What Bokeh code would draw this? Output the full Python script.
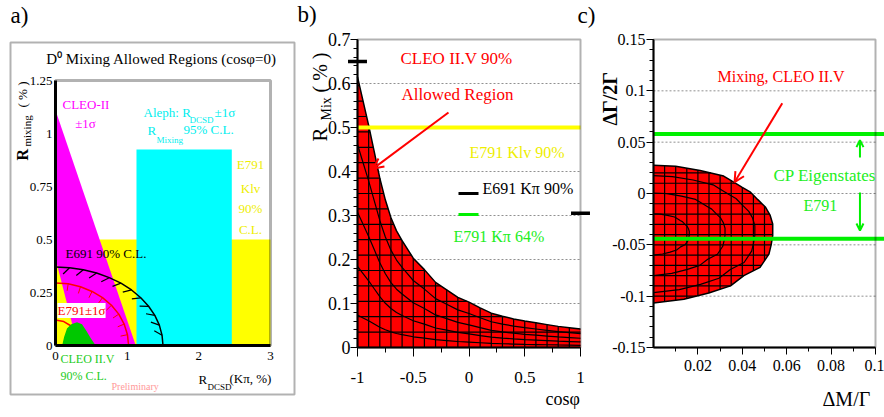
import math
import numpy as np
from bokeh.plotting import figure
from bokeh.layouts import row
from bokeh.models import Label, BoxAnnotation, Arrow, OpenHead, FixedTicker
from bokeh.embed import file_html
from bokeh.resources import INLINE

SERIF = "Liberation Serif"
H = 416

# ---------------- panel a : D0 mixing allowed regions (cos phi = 0) ----------------
a_xticks = [0, 1, 2, 3]
a_yticks = [0, 0.25, 0.5, 0.75, 1, 1.25]
klv_rmix_limit = 0.5                 # E791 Klv 90% C.L.
aleph_rdcsd = [1.13, 2.46]           # Aleph R_DCSD +-1 sigma
aleph_rmix_limit = 0.925             # Aleph R_Mixing 95% C.L.
cleo2_x = [0.0, 1.12, 0.31, 0.0]     # CLEO-II +-1 sigma band
cleo2_y = [1.11, 0.0, 0.0, 0.41]
e691_x = [0.0, 0.196, 0.388, 0.574, 0.75, 0.913, 1.061, 1.19, 1.299, 1.386, 1.449, 1.487, 1.5]
e691_y = [0.37, 0.367, 0.357, 0.342, 0.32, 0.294, 0.262, 0.225, 0.185, 0.142, 0.096, 0.048, 0.0]
e791_x = [0.0, 0.177, 0.349, 0.51, 0.656, 0.781, 0.883, 0.958, 1.004, 1.02]
e791_y = [0.295, 0.291, 0.277, 0.255, 0.226, 0.19, 0.148, 0.101, 0.051, 0.0]
e791in_x = [0.0, 0.116, 0.219, 0.294, 0.328, 0.34]
e791in_y = [0.12, 0.113, 0.092, 0.06, 0.031, 0.0]
cleo25_x = [0.093, 0.12, 0.16, 0.22, 0.30, 0.37, 0.43, 0.49, 0.56]
cleo25_y = [0.0, 0.04, 0.08, 0.10, 0.11, 0.10, 0.07, 0.035, 0.0]

# ---------------- panel b : R_mix vs cos phi ----------------
b_xticks = [-1, -0.5, 0, 0.5, 1]
b_yticks = [0, 0.1, 0.2, 0.3, 0.4, 0.5, 0.6, 0.7]
b_cos = [-1.0, -0.95, -0.9, -0.85, -0.8, -0.75, -0.7, -0.65, -0.6, -0.5, -0.4, -0.3, -0.2,
         -0.1, 0.0, 0.1, 0.2, 0.3, 0.4, 0.5, 0.6, 0.7, 0.8, 0.9, 1.0]
b_rmax = [0.615, 0.56, 0.505, 0.445, 0.385, 0.335, 0.295, 0.265, 0.243, 0.203, 0.177, 0.148, 0.131,
          0.114, 0.103, 0.09, 0.078, 0.071, 0.065, 0.06, 0.056, 0.052, 0.048, 0.045, 0.042]
e791_klv_limit = 0.5
e691_kpi_cos = [-1.0, 1.0]
e691_kpi_rmix = [0.65, 0.305]

# ---------------- panel c : dGamma/2Gamma vs dM/Gamma ----------------
c_xticks = [0.02, 0.04, 0.06, 0.08, 0.1]
c_yticks = [-0.15, -0.1, -0.05, 0, 0.05, 0.1, 0.15]
c_dm = [0.0, 0.01, 0.021, 0.0316, 0.0354, 0.040, 0.0437, 0.047, 0.0505, 0.0525, 0.0537, 0.0537,
        0.053, 0.052, 0.048, 0.0407, 0.0347, 0.0249, 0.0137, 0.0]
c_dg = [0.0275, 0.0265, 0.0225, 0.017, 0.012, 0.006, 0.0013, -0.006, -0.0134, -0.021, -0.0297, -0.041,
        -0.050, -0.059, -0.072, -0.080, -0.090, -0.097, -0.103, -0.1066]
cp_limits = [0.058, -0.044]          # E791 CP eigenstates


def panel(cx0, cw, xlim, px_l, px_r, ylim, py_t, py_b):
    """Figure whose frame is the whole canvas; the plot box is placed with the ranges."""
    kx = (px_r - px_l) / (xlim[1] - xlim[0])
    ky = (py_b - py_t) / (ylim[1] - ylim[0])
    xs = xlim[0] - (px_l - cx0) / kx
    xe = xlim[1] + (cx0 + cw - px_r) / kx
    ys = ylim[0] - (H - py_b) / ky
    ye = ylim[1] + py_t / ky
    p = figure(width=cw, height=H, x_range=(xs, xe), y_range=(ys, ye), output_backend="svg",
               toolbar_location=None, min_border=0, min_border_left=0, min_border_right=0,
               min_border_top=0, min_border_bottom=0)
    p.background_fill_color = "white"
    p.border_fill_color = "white"
    p.outline_line_color = None
    p.xgrid.visible = False
    p.ygrid.visible = False
    p.xaxis[0].fixed_location = ylim[0]
    p.xaxis[0].bounds = tuple(xlim)
    p.yaxis[0].fixed_location = xlim[0]
    p.yaxis[0].bounds = tuple(ylim)
    return p, kx, ky, (xs, xe)


def axis_style(ax, ticks, minor, size, major_out, minor_out, standoff, width):
    ax.ticker = FixedTicker(ticks=ticks, minor_ticks=minor)
    ax.major_label_overrides = {t: ("%g" % t) for t in ticks}
    ax.major_label_text_font = SERIF
    ax.major_label_text_font_size = f"{size}px"
    ax.major_label_text_color = "black"
    ax.major_tick_in = 0
    ax.minor_tick_in = 0
    ax.major_tick_out = major_out
    ax.minor_tick_out = minor_out
    ax.major_tick_line_color = "black" if major_out else None
    ax.minor_tick_line_color = "black" if minor_out else None
    ax.major_label_standoff = standoff
    ax.axis_line_color = "black"
    ax.axis_line_width = width


def frame_box(p, xlim, ylim, width):
    p.add_layout(BoxAnnotation(left=xlim[0], right=xlim[1], bottom=ylim[0], top=ylim[1],
                               fill_color=None, fill_alpha=0, line_color="black",
                               line_width=width))


def put(p, cx0, wx, wy, text, size, color="black", align="left", angle=0.0,
        style="normal", bg=None):
    kw = dict(x=wx - cx0, y=H - wy, x_units="screen", y_units="screen", text=text,
              text_font=SERIF, text_font_size=f"{size}px", text_color=color,
              text_align=align, text_baseline="middle", angle=angle, text_font_style=style)
    if bg is not None:
        kw["background_fill_color"] = bg
    p.add_layout(Label(**kw))


def normal_marks(xs, ys, idx, length, rot_deg, sx, sy):
    th = math.radians(rot_deg)
    x0s, y0s, x1s, y1s = [], [], [], []
    n = len(xs)
    for i in idx:
        i0, i1 = max(i - 1, 0), min(i + 1, n - 1)
        tx = (xs[i1] - xs[i0]) * sx
        ty = (ys[i1] - ys[i0]) * sy
        L = math.hypot(tx, ty)
        nx, ny = ty / L, -tx / L
        dx = nx * math.cos(th) - ny * math.sin(th)
        dy = nx * math.sin(th) + ny * math.cos(th)
        x0s.append(xs[i]); y0s.append(ys[i])
        x1s.append(xs[i] + dx * length / sx); y1s.append(ys[i] + dy * length / sy)
    return x0s, y0s, x1s, y1s


def poly_cuts(px, py, val, vertical):
    out = []
    n = len(px)
    for i in range(n):
        x1, y1, x2, y2 = px[i], py[i], px[(i + 1) % n], py[(i + 1) % n]
        a1, a2 = (x1, x2) if vertical else (y1, y2)
        b1, b2 = (y1, y2) if vertical else (x1, x2)
        if a1 != a2 and (a1 - val) * (a2 - val) <= 0:
            t = (val - a1) / (a2 - a1)
            out.append(b1 + t * (b2 - b1))
    return out


# ======================= panel a =======================
CXa = 0
xa_lim, ya_lim = (0, 3), (0, 1.25)
pa, SXa, SYa, _ = panel(CXa, 296, xa_lim, 55, 270, ya_lim, 80, 345)
axis_style(pa.xaxis[0], a_xticks, [], 13, 0, 0, 6, 3)
axis_style(pa.yaxis[0], a_yticks, [], 13, 0, 0, 3, 3)

pa.quad(left=xa_lim[0], right=xa_lim[1], bottom=0, top=klv_rmix_limit,
        fill_color="#ffff00", line_color=None)
pa.quad(left=aleph_rdcsd[0], right=aleph_rdcsd[1], bottom=0, top=aleph_rmix_limit,
        fill_color="#00ffff", line_color=None)
pa.patch(cleo2_x, cleo2_y, fill_color="#ff00ff", line_color=None)
pa.line(e791in_x, e791in_y, line_color="red", line_width=1.5)
pa.line(e791_x, e791_y, line_color="red", line_width=1.5)
rx0, ry0, rx1, ry1 = normal_marks(e791_x, e791_y, range(1, 9), 7, 0, SXa, SYa)
pa.segment(rx0, ry0, rx1, ry1, line_color="red", line_width=1)
pa.patch(cleo25_x, cleo25_y, fill_color="#00c800", line_color=None)
pa.line(e691_x, e691_y, line_color="black", line_width=1.5)
hx0, hy0, hx1, hy1 = normal_marks(e691_x, e691_y, range(1, 12), 9, -40, SXa, SYa)
pa.segment(hx0, hy0, hx1, hy1, line_color="black", line_width=1.2)
frame_box(pa, xa_lim, ya_lim, 3)

# outer box of panel a
pa.add_layout(BoxAnnotation(left=10, right=294, top=H - 42, bottom=H - 394,
                            left_units="screen", right_units="screen", top_units="screen",
                            bottom_units="screen", fill_color=None, fill_alpha=0,
                            line_color="black", line_width=2))

put(pa, CXa, 10, 15, "a)", 23)
put(pa, CXa, 161, 58, "D\u2070 Mixing Allowed Regions (cos\u03c6=0)", 15, align="center")
put(pa, CXa, 22, 160, "R", 16, angle=math.pi / 2, style="bold")
put(pa, CXa, 26, 146, "mixing", 11, angle=math.pi / 2)
put(pa, CXa, 22, 107, "( % )", 13, angle=math.pi / 2)
put(pa, CXa, 62, 104, "CLEO-II", 13, color="#ff00ff")
put(pa, CXa, 85, 123, "\u00b11\u03c3", 13, color="#ff00ff", align="center")
put(pa, CXa, 143, 112, "Aleph: R", 13, color="#00eeee")
put(pa, CXa, 189, 119, "DCSD", 9, color="#00eeee")
put(pa, CXa, 214, 112, "\u00b11\u03c3", 13, color="#00eeee")
put(pa, CXa, 147, 130, "R", 13, color="#00eeee")
put(pa, CXa, 156, 139, "Mixing", 9, color="#00eeee")
put(pa, CXa, 183, 129, "95% C.L.", 13, color="#00eeee")
for txt, yy in (("E791", 164), ("Klv", 188), ("90%", 208), ("C.L.", 229)):
    put(pa, CXa, 250, yy, txt, 13, color="#eeee00", align="center")
put(pa, CXa, 65, 253, "E691 90% C.L.", 13)
put(pa, CXa, 57, 310, "E791\u00b11\u03c3", 13, color="red", bg="white")
put(pa, CXa, 60, 358, "CLEO II.V", 12, color="#22cc22")
put(pa, CXa, 60, 375, "90% C.L.", 12, color="#22cc22")
put(pa, CXa, 111, 386, "Preliminary", 10, color="#ff9999")
put(pa, CXa, 198, 379, "R", 13)
put(pa, CXa, 207, 386, "DCSD", 9)
put(pa, CXa, 229, 378, "(K\u03c0, %)", 13)

# ======================= panel b =======================
CXb = 296
xb_lim, yb_lim = (-1, 1), (0, 0.7)
pb, SXb, SYb, _ = panel(CXb, 300, xb_lim, 357, 580, yb_lim, 39, 347)
axis_style(pb.xaxis[0], b_xticks, [-0.75, -0.25, 0.25, 0.75], 17, 9, 5, 15, 2)
axis_style(pb.yaxis[0], b_yticks, [round(0.02 * k, 3) for k in range(36)], 18, 7, 4, 0, 2)

b_grid = b_yticks[1:-1]
pb.segment(x0=xb_lim[0], x1=xb_lim[1], y0=b_grid, y1=b_grid, line_color="#909090",
           line_width=1, line_dash="2 2")
pb.varea(x=b_cos, y1=0, y2=b_rmax, fill_color="#ff0000")
b_cos_rev = b_cos[::-1]
b_r_rev = b_rmax[::-1]
mx, my = [], []
for k in range(1, 20):
    c = -1 + 0.1 * k
    mx.append([c, c]); my.append([0, float(np.interp(c, b_cos, b_rmax))])
for k in range(1, 18):
    r = 0.035 * k
    cr = float(np.interp(r, b_r_rev, b_cos_rev)) if r > b_rmax[-1] else 1.0
    mx.append([-1, cr]); my.append([r, r])
for s in (0.12, 0.3, 0.5, 0.75):
    mx.append(list(b_cos)); my.append([s * r for r in b_rmax])
pb.multi_line(mx, my, line_color="black", line_width=1.2)
pb.line(b_cos, b_rmax, line_color="black", line_width=1.5)
pb.segment(x0=[xb_lim[0]], x1=[xb_lim[1]], y0=[e791_klv_limit], y1=[e791_klv_limit],
           line_color="#ffff00", line_width=4)
for c, r in zip(e691_kpi_cos, e691_kpi_rmix):
    pb.add_layout(BoxAnnotation(left=c - 0.085, right=c + 0.085, bottom=r - 0.004, top=r + 0.004,
                                fill_color="black", fill_alpha=1, line_color=None))
frame_box(pb, xb_lim, yb_lim, 2)

pb.add_layout(BoxAnnotation(left=458 - CXb, right=478 - CXb, bottom=H - 194.5, top=H - 191.5,
                            left_units="screen", right_units="screen", top_units="screen",
                            bottom_units="screen", fill_color="black", fill_alpha=1, line_color=None))
pb.add_layout(BoxAnnotation(left=458 - CXb, right=478 - CXb, bottom=H - 215.5, top=H - 212.5,
                            left_units="screen", right_units="screen", top_units="screen",
                            bottom_units="screen", fill_color="#00f000", fill_alpha=1, line_color=None))
pb.add_layout(Arrow(end=OpenHead(line_color="red", line_width=2, size=10),
                    x_start=-0.184, y_start=0.534, x_end=-0.857, y_end=0.407,
                    line_color="red", line_width=2))

put(pb, CXb, 297, 14, "b)", 23)
put(pb, CXb, 577, 15, "c)", 23)
put(pb, CXb, 319, 141, "R", 21, angle=math.pi / 2)
put(pb, CXb, 326, 120, "Mix", 14, angle=math.pi / 2)
put(pb, CXb, 319, 92, "( % )", 20, angle=math.pi / 2)
put(pb, CXb, 545, 398, "cos\u03c6", 18)
put(pb, CXb, 400, 58, "CLEO II.V 90%", 17, color="red")
put(pb, CXb, 401, 94, "Allowed Region", 17, color="red")
put(pb, CXb, 469, 152, "E791 Klv 90%", 16, color="#eeee00")
put(pb, CXb, 482, 188, "E691 K\u03c0 90%", 16)
put(pb, CXb, 453, 236, "E791 K\u03c0 64%", 16, color="#22ee22")

# ======================= panel c =======================
CXc = 596
xc_lim, yc_lim = (0, 0.1), (-0.15, 0.15)
pc, SXc, SYc, xc_rng = panel(CXc, 288, xc_lim, 653, 875, yc_lim, 39, 347)
axis_style(pc.xaxis[0], c_xticks, [round(0.01 * k, 3) for k in range(1, 10)], 16, 7, 4, 5, 2)
axis_style(pc.yaxis[0], c_yticks, [round(-0.15 + 0.01 * k, 3) for k in range(31)], 16, 7, 4, 1, 2)

c_grid = c_yticks[1:-1]
pc.segment(x0=xc_lim[0], x1=xc_lim[1], y0=c_grid, y1=c_grid, line_color="#909090",
           line_width=1, line_dash="2 2")
pc.patch(c_dm, c_dg, fill_color="#ff0000", line_color=None)
cx, cy = [], []
for k in range(1, 11):
    xv = 0.005 * k
    hits = poly_cuts(c_dm, c_dg, xv, True)
    if len(hits) >= 2:
        cx.append([xv, xv]); cy.append([min(hits), max(hits)])
for k in range(-10, 3):
    yv = 0.01 * k
    hits = [h for h in poly_cuts(c_dm, c_dg, yv, False) if h > 1e-9]
    if hits:
        cx.append([0, max(hits)]); cy.append([yv, yv])
for s in (0.3, 0.6, 0.85):
    cx.append([s * v for v in c_dm]); cy.append([-0.04 + s * (v + 0.04) for v in c_dg])
pc.multi_line(cx, cy, line_color="black", line_width=1.2)
pc.line(c_dm, c_dg, line_color="black", line_width=1.5)
pc.segment(x0=[xc_lim[0]] * 2, x1=[xc_rng[1]] * 2, y0=cp_limits, y1=cp_limits,
           line_color="#00f000", line_width=4)
frame_box(pc, xc_lim, yc_lim, 2)

pc.add_layout(Arrow(end=OpenHead(line_color="#00f000", line_width=2, size=7),
                    x_start=0.093, y_start=0.035, x_end=0.093, y_end=0.052,
                    line_color="#00f000", line_width=2))
pc.add_layout(Arrow(end=OpenHead(line_color="#00f000", line_width=2, size=7),
                    x_start=0.093, y_start=0.001, x_end=0.093, y_end=-0.036,
                    line_color="#00f000", line_width=2))
pc.add_layout(Arrow(end=OpenHead(line_color="red", line_width=2, size=10),
                    x_start=0.058, y_start=0.088, x_end=0.0365, y_end=0.011,
                    line_color="red", line_width=2))

put(pc, CXc, 609, 125, "\u0394\u0393/2\u0393", 20, angle=math.pi / 2, style="bold")
put(pc, CXc, 822, 398, "\u0394M/\u0393", 20)
put(pc, CXc, 717, 76, "Mixing, CLEO II.V", 16, color="red")
put(pc, CXc, 773, 175, "CP Eigenstates", 17, color="#22ee22")
put(pc, CXc, 803, 205, "E791", 16, color="#22ee22")

layout = row(pa, pb, pc)
open("out.html", "w").write(file_html(layout, INLINE))
